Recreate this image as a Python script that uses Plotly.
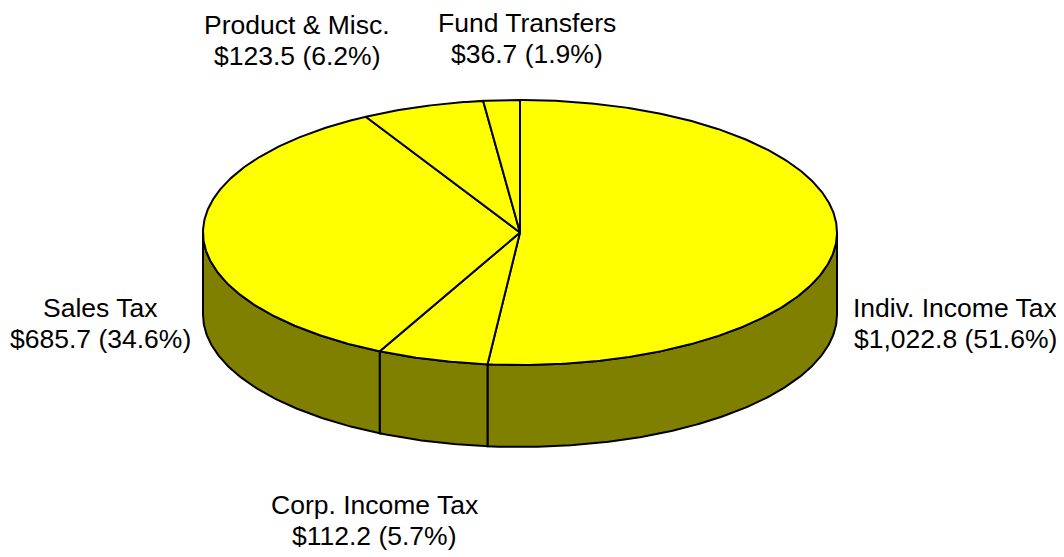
import numpy as np
import plotly.graph_objects as go

# ---- data -------------------------------------------------------------------
CATEGORIES = ["Indiv. Income Tax", "Corp. Income Tax", "Sales Tax",
              "Product & Misc.", "Fund Transfers"]
AMOUNTS = [1022.8, 112.2, 685.7, 123.5, 36.7]

# ---- look -------------------------------------------------------------------
TOP_COLOR = "#FFFF00"
SIDE_COLOR = "#808000"
EDGE = "black"
W, H = 1064, 557
PAGE_OFFSET = 8  # browser body margin; axis ranges shifted so units == window px
CX, CY, RX, RY, DEPTH = 520, 232.5, 317, 132.5, 82
START_DEG = 90.0  # first slice starts at 12 o'clock, then clockwise
FONT_SIZE = 26.5
LINE_GAP = 31

# label anchor (px): centre x, centre y of the first line
LABEL_POS = {
    "Indiv. Income Tax": (955, 307.5),
    "Corp. Income Tax": (374, 504.5),
    "Sales Tax": (100, 307.5),
    "Product & Misc.": (297, 24.5),
    "Fund Transfers": (527, 22.5),
}


def arc(t_from, t_to, dy=0.0):
    n = max(2, int(abs(t_to - t_from) * 2) + 1)
    t = np.radians(np.linspace(t_from, t_to, n))
    return CX + RX * np.cos(t), CY - RY * np.sin(t) + dy


vals = np.asarray(AMOUNTS, dtype=float)
shares = vals / vals.sum()
bounds = START_DEG - np.concatenate([[0], np.cumsum(shares) * 360.0])

fig = go.Figure()

# side walls (front half only: angles between -180 and 0)
for i in range(len(vals)):
    hi, lo = bounds[i], bounds[i + 1]
    a, b = max(lo, -180.0), min(hi, 0.0)
    if a >= b:
        continue
    xt, yt = arc(a, b)
    xb, yb = arc(b, a, DEPTH)
    xs = np.concatenate([xt, xb, xt[:1]])
    ys = np.concatenate([yt, yb, yt[:1]])
    fig.add_trace(go.Scatter(x=xs, y=ys, mode="lines", fill="toself",
                             fillcolor=SIDE_COLOR, line=dict(color=EDGE, width=2),
                             hoverinfo="skip", showlegend=False))

# top faces
for i in range(len(vals)):
    xa, ya = arc(bounds[i], bounds[i + 1])
    xs = np.concatenate([[CX], xa, [CX]])
    ys = np.concatenate([[CY], ya, [CY]])
    fig.add_trace(go.Scatter(x=xs, y=ys, mode="lines", fill="toself",
                             fillcolor=TOP_COLOR, line=dict(color=EDGE, width=2),
                             hoverinfo="skip", showlegend=False))

font = dict(family="Liberation Sans, Arial, sans-serif", size=FONT_SIZE, color="black")
for name, v, s in zip(CATEGORIES, vals, shares):
    lx, ly = LABEL_POS[name]
    for k, line in enumerate([name, f"${v:,.1f} ({s * 100:.1f}%)"]):
        fig.add_annotation(x=lx, y=ly + k * LINE_GAP, xanchor="center", yanchor="middle",
                           text=line, showarrow=False, font=font)

fig.update_xaxes(range=[PAGE_OFFSET, W + PAGE_OFFSET], visible=False, fixedrange=True)
fig.update_yaxes(range=[H + PAGE_OFFSET, PAGE_OFFSET], visible=False, fixedrange=True)
fig.update_layout(width=W, height=H, margin=dict(l=0, r=0, t=0, b=0),
                  paper_bgcolor="white", plot_bgcolor="white")

fig.write_html("out.html")
